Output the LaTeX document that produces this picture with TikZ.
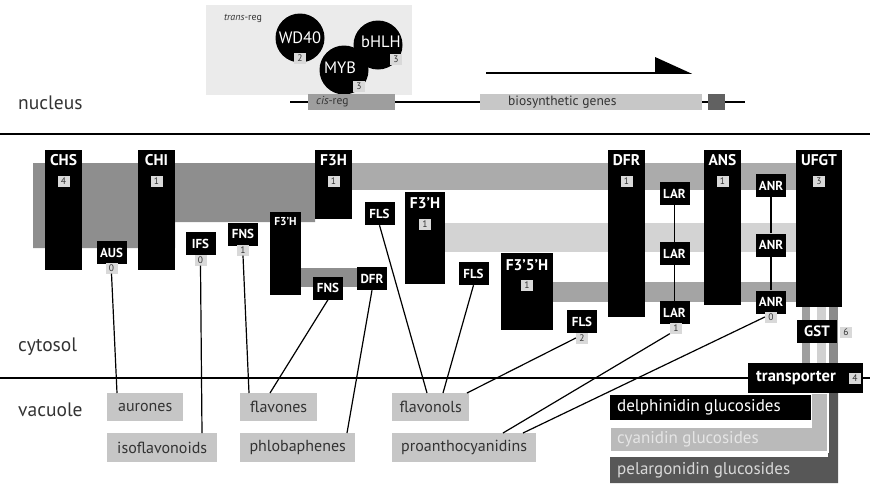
\documentclass[tikz,border=0pt]{standalone}
\usepackage{fontspec}
\setmainfont{PT Sans}
\usetikzlibrary{calc}
\definecolor{bandA}{HTML}{8E8E8E}
\definecolor{bandB}{HTML}{ABABAB}
\definecolor{bandC}{HTML}{D3D3D3}
\definecolor{bandD}{HTML}{A4A4A4}
\definecolor{prodgray}{HTML}{C6C6C6}
\definecolor{labgray}{HTML}{D9D9D9}
\definecolor{txtgray}{HTML}{333333}
\begin{document}
\begin{tikzpicture}[x=1pt,y=-1pt,
  colbox/.style={fill=black,draw=none,anchor=north west,inner sep=0,outer sep=0},
  hdr/.style={text=white,font=\bfseries\fontsize{15.5}{15.5}\selectfont,inner sep=0},
  hdrsmall/.style={text=white,font=\bfseries\fontsize{11.5}{11.5}\selectfont,inner sep=0},
  numlab/.style={fill=labgray,text=black!80,font=\fontsize{9.5}{9.5}\selectfont,inner sep=0,minimum width=12pt,minimum height=11pt},
  sbox/.style={fill=black,text=white,font=\bfseries\fontsize{13}{13}\selectfont,inner sep=0,minimum width=30pt,minimum height=23pt},
  prod/.style={fill=prodgray,text=txtgray,font=\fontsize{16}{16}\selectfont,inner sep=0,anchor=north west},
  region/.style={text=txtgray,font=\fontsize{19.5}{19.5}\selectfont,inner sep=0,anchor=west},
  conn/.style={draw=black,line width=1.2pt},
  circ/.style={circle,fill=black,minimum size=49pt,inner sep=0,text=white,font=\fontsize{16.5}{16.5}\selectfont}
]
\useasboundingbox (0,0) rectangle (870,483);

% ---------- nucleus ----------
\fill[black!8] (206,5) rectangle (412,95);
\node[font=\fontsize{10}{10}\selectfont,text=txtgray,inner sep=0] (treg) at (243,18) {\textit{trans}-reg};
\node[circ] (wd40) at (300,38) {WD40};
\node[circ] (bhlh) at (378,45) {};
\node[circ] (myb) at (344,70) {};
\node[text=white,font=\fontsize{16.5}{16.5}\selectfont,inner sep=0] (bhlht) at (381,42) {bHLH};
\node[text=white,font=\fontsize{16.5}{16.5}\selectfont,inner sep=0] (mybt) at (340,68) {MYB};
\node[numlab] (wd40n) at (300,58) {2};
\node[numlab] (mybn) at (359,86) {3};
\node[numlab] (bhlhn) at (396,59) {3};

\coordinate (gl) at (290,102);
\coordinate (gr) at (745,102);
\draw[line width=1.2pt] (gl) -- (gr);
\node[fill=black!38,anchor=west,minimum width=87pt,minimum height=16pt,inner sep=0] (cis) at (308,102) {};
\node[text=txtgray,font=\fontsize{11.5}{11.5}\selectfont,anchor=west,inner sep=0] (cist) at (316,102) {\textit{cis}-reg};
\node[fill=black!22,anchor=west,minimum width=222pt,minimum height=16pt,inner sep=0] (bio) at (480,102) {};
\node[text=txtgray,font=\fontsize{13.5}{13.5}\selectfont,anchor=west,inner sep=0] (biot) at (508,102) {biosynthetic genes};
\node[fill=black!62,anchor=west,minimum width=17pt,minimum height=16pt,inner sep=0] (bioend) at (708,102) {};
\coordinate (arl) at (486,73);
\coordinate (arr) at (660,73);
\draw[line width=1.6pt] (arl) -- (arr);
\fill (655,57) -- (692,73.8) -- (655,73.8) -- cycle;

\node[region] (nuc) at (18,103) {nucleus};
\draw[line width=1.6pt] (0,134) -- (870,134);

% ---------- bands ----------
\fill[bandA] (33,163) -- (315,163) -- (315,222) -- (175,222) -- (175,248) -- (33,248) -- cycle;
\fill[bandB] (315,163) rectangle (800,190);
\fill[bandC] (445,223) rectangle (800,252);
\fill[bandD] (553,282) rectangle (800,302);
\fill[bandA] (301,268) rectangle (370,287);
% strips below UFGT
\fill[black!38] (802,307) rectangle (810,363);
\fill[black!18] (817,307) rectangle (826,363);
\fill[black!46] (829,307) rectangle (838,363);

% ---------- columns ----------
\node[colbox,minimum width=37pt,minimum height=120pt] (chs) at (45,150) {};
\node[hdr] at (63.5,160) {CHS};
\node[numlab] (chsn) at (63.5,181) {4};
\node[colbox,minimum width=37pt,minimum height=120pt] (chi) at (138,150) {};
\node[hdr] at (156.5,160) {CHI};
\node[numlab] (chin) at (156.5,181) {1};
\node[colbox,minimum width=37pt,minimum height=69pt] (f3h) at (315,150) {};
\node[hdr] at (333.5,160) {F3H};
\node[numlab] (f3hn) at (333.5,181) {1};
\node[colbox,minimum width=31pt,minimum height=83pt] (f3ps) at (270,212) {};
\node[hdrsmall] at (285.5,221) {F3'H};
\node[colbox,minimum width=40pt,minimum height=92pt] (f3pb) at (405,192) {};
\node[hdr] at (425,203) {F3'H};
\node[numlab] (f3pbn) at (425,224) {1};
\node[colbox,minimum width=52pt,minimum height=77pt] (f35) at (501,253) {};
\node[hdr] at (527,265) {F3'5'H};
\node[numlab] (f35n) at (527,285) {1};
\node[colbox,minimum width=37pt,minimum height=167pt] (dfr) at (608,150) {};
\node[hdr] at (626.5,160) {DFR};
\node[numlab] (dfrn) at (626.5,181) {1};
\node[colbox,minimum width=37pt,minimum height=155pt] (ans) at (704,150) {};
\node[hdr] at (722.5,160) {ANS};
\node[numlab] (ansn) at (722.5,181) {1};
\node[colbox,minimum width=46pt,minimum height=157pt] (ufgt) at (796,150) {};
\node[hdr] at (819,160) {UFGT};
\node[numlab] (ufgtn) at (819,181) {3};

% ---------- small enzyme boxes ----------
\node[sbox] (aus) at (111.5,252.5) {AUS};
\node[numlab] (ausn) at (111.5,268) {0};
\node[sbox] (ifs) at (200.5,243.5) {IFS};
\node[numlab] (ifsn) at (200.5,260) {0};
\node[sbox] (fns1) at (243,234) {FNS};
\node[numlab] (fns1n) at (243,250) {1};
\node[sbox] (fls1) at (379.5,213.5) {FLS};
\node[sbox] (fns2) at (328,288) {FNS};
\node[sbox] (dfr2) at (372,278.5) {DFR};
\node[sbox] (fls2) at (473.5,273.5) {FLS};
\node[sbox] (fls3) at (582,321.5) {FLS};
\node[numlab] (fls3n) at (582,338) {2};
\node[sbox] (lar1) at (674.5,193.5) {LAR};
\node[sbox] (lar2) at (674.5,253.5) {LAR};
\node[sbox] (lar3) at (674.5,312.5) {LAR};
\node[numlab] (lar3n) at (676,328) {1};
\node[sbox] (anr1) at (771,185.5) {ANR};
\node[sbox] (anr2) at (771,245) {ANR};
\node[sbox] (anr3) at (771,302) {ANR};
\node[numlab] (anr3n) at (771,317) {0};
\node[sbox,minimum width=40pt,font=\bfseries\fontsize{15}{15}\selectfont] (gst) at (817,331.5) {GST};
\node[numlab] (gstn) at (846,332) {6};

\draw[conn] (lar1) -- (lar2);
\draw[conn] (lar2) -- (lar3);
\draw[conn] (anr1) -- (anr2);
\draw[conn] (anr2) -- (anr3);

% ---------- anthocyanin bars ----------
\fill[black!66] (610,457) -- (828,457) -- (828,393) -- (838,393) -- (838,483) -- (610,483) -- cycle;
\draw[white,line width=1.5pt,fill=black!27] (610,427) -- (811,427) -- (811,393) -- (828,393) -- (828,452) -- (610,452) -- cycle;
\fill[black] (610,395) rectangle (811,420);
\node[text=white,font=\fontsize{17}{17}\selectfont,anchor=west,inner sep=0] (delph) at (617,407.5) {delphinidin glucosides};
\node[text=white!90!black,font=\fontsize{17}{17}\selectfont,anchor=west,inner sep=0] (cyan) at (617,439.5) {cyanidin glucosides};
\node[text=black!15,font=\fontsize{17}{17}\selectfont,anchor=west,inner sep=0] (pelarg) at (617,470) {pelargonidin glucosides};

% ---------- vacuole membrane ----------
\draw[line width=1.4pt] (0,378) -- (870,378);
\node[colbox,minimum width=115pt,minimum height=30pt] (trans) at (748,363) {};
\node[text=white,font=\bfseries\fontsize{16.5}{16.5}\selectfont,inner sep=0] (transt) at (796,378) {transporter};
\node[numlab] (transn) at (855,378) {4};

\node[region] (cyt) at (18,347) {cytosol};
\node[region] (vac) at (18,410) {vacuole};

% ---------- products ----------
\node[prod,minimum width=76pt,minimum height=28pt] (aur) at (107,393) {aurones};
\node[prod,minimum width=110pt,minimum height=29pt] (iso) at (107,433) {isoflavonoids};
\node[prod,minimum width=77pt,minimum height=28pt] (flav) at (240,393) {flavones};
\node[prod,minimum width=115pt,minimum height=29pt] (phlo) at (240,433) {phlobaphenes};
\node[prod,minimum width=77pt,minimum height=28pt] (flvn) at (392,393) {flavonols};
\node[prod,minimum width=144pt,minimum height=29pt] (pro) at (392,433) {proanthocyanidins};

% ---------- connectors ----------
\draw[conn] (ausn.south) -- ($(aur.north west)+(10,0)$);
\draw[conn] (ifsn.south) -- ($(iso.north west)+(95,0)$);
\draw[conn] (fns1n.south) -- ($(flav.north west)+(9,0)$);
\draw[conn] (fns2.south) -- ($(flav.north west)+(30,0)$);
\draw[conn] (dfr2.south) -- ($(phlo.north west)+(107,0)$);
\draw[conn] (fls1.south) -- ($(flvn.north west)+(35,0)$);
\draw[conn] (fls2.south) -- ($(flvn.north west)+(51,0)$);
\draw[conn] (fls3n.west) -- ($(flvn.north west)+(75,0)$);
\draw[conn] (lar3n.south west) -- ($(pro.north west)+(111,0)$);
\draw[conn] (anr3n.west) -- ($(pro.north west)+(131,0)$);
\end{tikzpicture}
\end{document}
